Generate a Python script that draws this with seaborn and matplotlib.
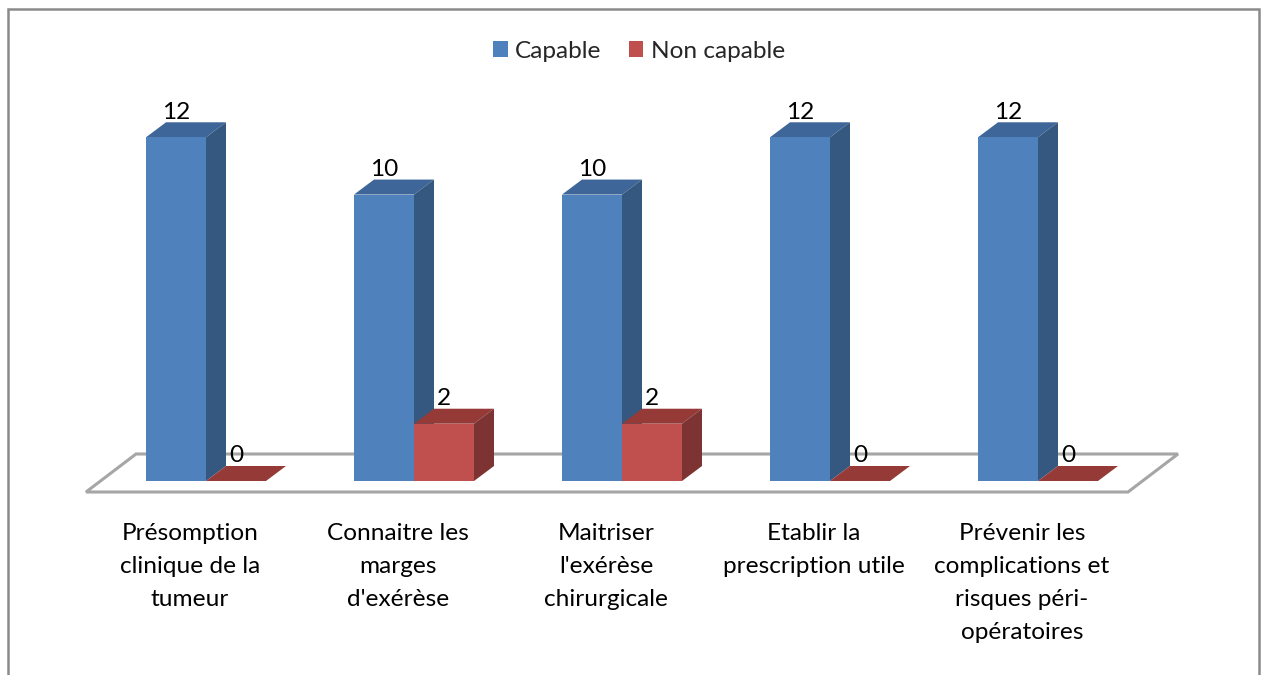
import pandas as pd
import matplotlib.pyplot as plt
import seaborn as sns
from matplotlib.patches import Polygon, Rectangle
from matplotlib.transforms import Affine2D, IdentityTransform

categories = [
    "Présomption\nclinique de la\ntumeur",
    "Connaitre les\nmarges\nd'exérèse",
    "Maitriser\nl'exérèse\nchirurgicale",
    "Etablir la\nprescription utile",
    "Prévenir les\ncomplications et\nrisques péri-\nopératoires",
]
capable = [12, 10, 10, 12, 12]
non_capable = [0, 2, 2, 0, 0]
series_names = ["Capable", "Non capable"]

W, H = 1261, 675
DX, DY = 20, 15  # profondeur de la fausse 3D, en pixels
FONT_SIZE = 17.6

front_colors = ["#4F81BD", "#C0504D"]
top_colors = ["#3E6698", "#963A38"]
side_colors = ["#34587F", "#7D3331"]

df = pd.DataFrame({
    "categorie": categories * 2,
    "serie": [series_names[0]] * 5 + [series_names[1]] * 5,
    "valeur": capable + non_capable,
})

sns.set_theme(style="white")
plt.rcParams['font.family'] = ['Lato', 'DejaVu Sans']

fig = plt.figure(figsize=(W / 100, H / 100), dpi=100)
ax = fig.add_axes([102 / W, (H - 481) / H, 1040 / W, 401 / H])
ax.patch.set_visible(False)

sns.barplot(data=df, x="categorie", y="valeur", hue="serie", palette=front_colors,
            width=120 / 208, gap=0, saturation=1, linewidth=0, ax=ax, zorder=3)
ax.set_xlim(-0.5, 4.5)
ax.set_ylim(0, 14)
ax.set_xlabel("")
ax.set_ylabel("")
ax.set_yticks([])
sns.despine(left=True, bottom=True)
ax.tick_params(axis='x', length=0, pad=30.5, labelsize=FONT_SIZE)
for lab in ax.get_xticklabels():
    lab.set_linespacing(1.7)
    lab.set_color("black")
    # les etiquettes sont centrees sur le plancher, pas sur les barres
    lab.set_transform(lab.get_transform() + Affine2D().translate(-16, 0))

# cadre du graphique, coupe en bas
fig.add_artist(Rectangle((7.5, -20), 1251, H - 9 + 20, transform=IdentityTransform(),
                         facecolor="none", edgecolor="#8A8A8A", linewidth=1.8))

# plancher
floor = [(86, H - 492), (1128, H - 492), (1178, H - 454), (136, H - 454)]
ax.add_patch(Polygon(floor, closed=True, transform=IdentityTransform(), facecolor="white",
                     edgecolor="#A6A6A6", linewidth=2.2, clip_on=False, zorder=1))

# faces du dessus et de cote pour chaque barre
for s, container in enumerate(ax.containers):
    for bar in container:
        (x0, y0), (x1, y1) = ax.transData.transform(
            [(bar.get_x(), 0), (bar.get_x() + bar.get_width(), bar.get_height())])
        top = [(x0, y1), (x1, y1), (x1 + DX, y1 + DY), (x0 + DX, y1 + DY)]
        ax.add_patch(Polygon(top, closed=True, transform=IdentityTransform(),
                             facecolor=top_colors[s], edgecolor="none", clip_on=False, zorder=2 + s * 2))
        if y1 > y0:
            side = [(x1, y0), (x1 + DX, y0 + DY), (x1 + DX, y1 + DY), (x1, y1)]
            ax.add_patch(Polygon(side, closed=True, transform=IdentityTransform(),
                                 facecolor=side_colors[s], edgecolor="none", clip_on=False, zorder=2 + s * 2))
        bar.set_zorder(3 + s * 2)
    ax.bar_label(container, padding=10.5, fontsize=FONT_SIZE, color="black", zorder=8)

handles, labels = ax.get_legend_handles_labels()
ax.legend(handles, labels, ncol=2, frameon=False, loc="center", fontsize=FONT_SIZE,
          bbox_to_anchor=(639 / W, (H - 51) / H), bbox_transform=fig.transFigure,
          handlelength=0.61, handleheight=0.61, handletextpad=0.29, columnspacing=1.1)

plt.savefig("out.png", dpi=100)
